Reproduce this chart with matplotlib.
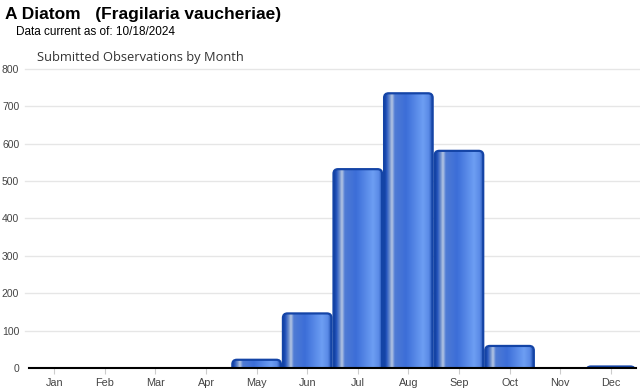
import matplotlib.pyplot as plt
import numpy as np
from matplotlib.patches import FancyBboxPatch
from matplotlib.colors import LinearSegmentedColormap

months = ["Jan", "Feb", "Mar", "Apr", "May", "Jun", "Jul", "Aug", "Sep", "Oct", "Nov", "Dec"]
counts = [0, 0, 0, 0, 22, 146, 532, 735, 581, 59, 0, 4]
yticks = [0, 100, 200, 300, 400, 500, 600, 700, 800]

plt.rcParams["font.family"] = ["Liberation Sans", "DejaVu Sans"]

# горизонтальный градиент для "цилиндрических" столбцов
grad = LinearSegmentedColormap.from_list("bar", [
    (0.0, "#123f9e"), (0.05, "#2656bf"), (0.11, "#6a8ccc"), (0.16, "#b6c7e4"),
    (0.22, "#4f7bd4"), (0.45, "#3c6ed8"), (0.80, "#6d9ef3"), (0.92, "#5a8ae6"),
    (1.0, "#1646a8")])

fig = plt.figure(figsize=(6.4, 3.9), dpi=100)
ax = fig.add_axes([29 / 640, 1 - 368 / 390, 607 / 640, 299 / 390])

x = np.arange(len(months))
w = 1.0

# пиксели на единицу
px_x = 607 / 12
px_y = 299 / 800
r = 4.5 / px_x
aspect = px_x / px_y

g = np.linspace(0, 1, 200).reshape(1, -1)
for i, v in enumerate(counts):
    if v <= 0:
        continue
    left = x[i] - w / 2 + 0.02
    width = w - 0.04
    box = FancyBboxPatch((left, -15), width, v + 15,
                         boxstyle="round,pad=0,rounding_size=%f" % r,
                         mutation_aspect=aspect, facecolor="none",
                         edgecolor="#1444a6", linewidth=1.6, zorder=3)
    ax.add_patch(box)
    im = ax.imshow(g, cmap=grad, aspect="auto", extent=(left, left + width, -15, v),
                   zorder=2, interpolation="bilinear")
    im.set_clip_path(box)

ax.set_ylim(0, 800)
ax.set_xlim(-0.5, 11.5)

for yt in yticks[1:]:
    ax.axhline(yt, color="#e6e6e6", linewidth=1, zorder=0, xmin=-4 / 607, xmax=1.01, clip_on=False)

ax.set_yticks(yticks)
ax.set_yticklabels([str(t) for t in yticks], fontsize=7.5, color="#444444")
ax.set_xticks(x)
ax.set_xticklabels(months, fontsize=7.8, color="#444444")
ax.tick_params(axis="y", length=0, pad=7)
ax.tick_params(axis="x", length=4, color="#cccccc", pad=3)

for s in ["top", "right", "left"]:
    ax.spines[s].set_visible(False)
ax.spines["bottom"].set_color("black")
ax.spines["bottom"].set_linewidth(1.5)
ax.spines["bottom"].set_zorder(5)

fig.text(5 / 640, 1 - 14 / 390, "A Diatom   (Fragilaria vaucheriae)", fontsize=12.5,
         fontweight="bold", va="center", ha="left")
fig.text(16 / 640, 1 - 32 / 390, "Data current as of: 10/18/2024", fontsize=8.5,
         va="center", ha="left")
fig.text(37 / 640, 1 - 58 / 390, "Submitted Observations by Month", fontsize=9.3,
         family=["Open Sans", "DejaVu Sans"], color="#333333", va="center", ha="left")

fig.savefig("out.png", dpi=100)
